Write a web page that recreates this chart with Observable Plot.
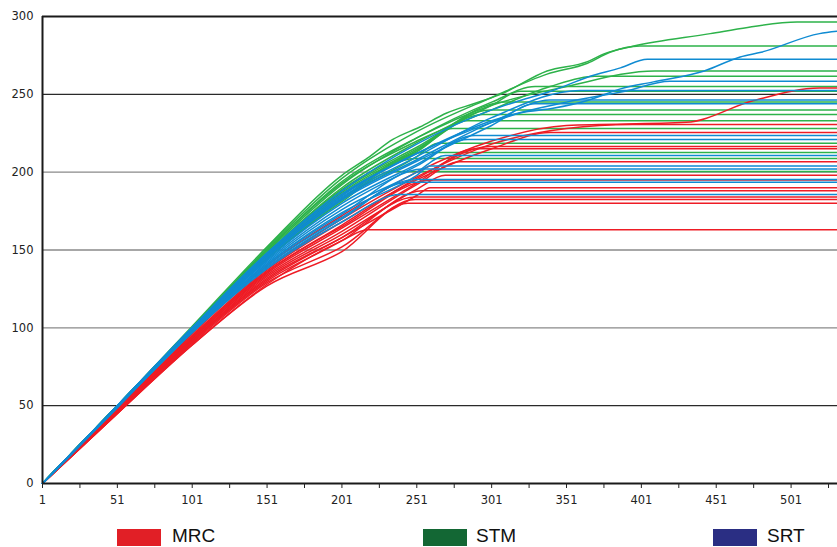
<!DOCTYPE html>
<html>
<head>
<meta charset="utf-8">
<script src="https://cdn.jsdelivr.net/npm/d3@7"></script>
<script src="https://cdn.jsdelivr.net/npm/@observablehq/plot@0.6"></script>
<style>
  html, body { margin: 0; padding: 0; background: #fff; }
  #wrap { position: relative; width: 837px; height: 547px; overflow: hidden; }
  .sw { position: absolute; top: 529px; width: 44px; height: 17px; }
  .lt { position: absolute; top: 525px; font-family: "Liberation Sans", Arial, sans-serif; font-size: 19px; color: #111; line-height: 21px; }
</style>
</head>
<body>
<div id="wrap"></div>
<script>
// ---- data ----
const methods = ["MRC", "STM", "SRT"];
const lineColors = ["#ee1c25", "#2db24a", "#0f8bd2"];
const legendColors = ["#e11f26", "#136734", "#2a2e83"];

const yTicks = [0, 50, 100, 150, 200, 250, 300];
const xMajorTicks = [1, 51, 101, 151, 201, 251, 301, 351, 401, 451, 501];
const xMinorTicks = [26, 76, 126, 176, 226, 276, 326, 376, 426, 476, 526];

// MRC runs: [x, cumulative value] knots
const mrcRuns = [
  [[1,0],[51,48],[101,96],[151,140],[201,172],[251,200],[301,220],[351,230],[431,232],[476,246],[520,254],[532,254]],
  [[1,0],[51,48],[101,95],[151,138],[201,170],[251,197],[301,218],[351,228],[395,230.6],[532,230.6]],
  [[1,0],[51,47],[101,94],[151,137],[201,168],[251,195],[301,215],[340,225.5],[532,225.5]],
  [[1,0],[51,47],[101,94],[151,136],[201,166],[251,196],[300,216.5],[532,216.5]],
  [[1,0],[51,47],[101,93],[151,135],[201,164],[251,193],[290,215],[532,215]],
  [[1,0],[51,46],[101,93],[151,134],[201,162],[251,192],[280,206.7],[532,206.7]],
  [[1,0],[51,46],[101,92],[151,133],[201,160],[251,189],[270,198],[532,198]],
  [[1,0],[51,46],[101,92],[151,131],[201,158],[251,185],[260,190],[532,190]],
  [[1,0],[51,45],[101,91],[151,130],[201,156],[255,188],[532,188]],
  [[1,0],[51,45],[101,90],[151,129],[201,152],[250,182.4],[532,182.4]],
  [[1,0],[51,45],[101,89],[151,127],[201,149],[245,180],[532,180]],
  [[1,0],[51,45],[101,89],[151,128],[201,156],[218,163],[532,163]],
  [[1,0],[51,46],[101,91],[151,132],[201,158],[250,184],[532,184]],
  [[1,0],[51,47],[101,94],[151,136],[201,165],[262,195],[532,195]]
];

// STM runs
const stmRuns = [
  [[1,0],[51,50],[101,101],[151,152],[201,198],[218,209],[235,221],[253,229],[271,238],[289,244],[307,250],[338,265],[365,271],[376,276],[396,281],[447,289],[472,293],[505,296.5],[532,296.5]],
  [[1,0],[51,50],[101,100],[151,151],[201,196],[251,226],[301,248],[338,263],[365,270],[380,277],[400,281],[532,281]],
  [[1,0],[51,50],[101,100],[151,150],[201,194],[251,222],[301,243],[351,255],[410,265],[532,265]],
  [[1,0],[51,50],[101,100],[151,150],[201,193],[251,220],[301,240],[340,255],[370,261.6],[532,261.6]],
  [[1,0],[51,50],[101,100],[151,149],[201,192],[251,222],[301,245],[330,255],[532,255]],
  [[1,0],[51,50],[101,99],[151,148],[201,190],[251,219],[301,243],[320,252],[532,252]],
  [[1,0],[51,50],[101,99],[151,148],[201,189],[251,216],[310,245],[532,245]],
  [[1,0],[51,50],[101,99],[151,147],[201,188],[251,215],[300,240],[532,240]],
  [[1,0],[51,50],[101,99],[151,147],[201,187],[251,214],[295,237],[532,237]],
  [[1,0],[51,50],[101,99],[151,146],[201,186],[251,213],[285,233],[532,233]],
  [[1,0],[51,50],[101,99],[151,146],[201,185],[251,214],[275,228],[532,228]],
  [[1,0],[51,49],[101,98],[151,145],[201,183],[251,210],[265,218.6],[532,218.6]],
  [[1,0],[51,49],[101,98],[151,145],[201,183],[255,212.6],[532,212.6]],
  [[1,0],[51,49],[101,98],[151,144],[201,182],[250,208.7],[532,208.7]],
  [[1,0],[51,49],[101,98],[151,144],[201,181],[235,200.4],[532,200.4]]
];

// SRT runs
const srtRuns = [
  [[1,0],[51,50],[101,100],[151,148],[201,186],[251,212],[301,232],[320,238],[342,241],[365,246],[387,253.5],[409,258],[443,265],[467,274],[481,277],[520,289],[532,290.5]],
  [[1,0],[51,50],[101,100],[151,148],[201,188],[251,218],[301,240],[320,246],[342,252.5],[365,261],[387,267],[405,272.5],[532,272.5]],
  [[1,0],[51,50],[101,100],[151,147],[201,185],[251,212],[301,233],[351,245],[390,252],[420,258.4],[532,258.4]],
  [[1,0],[51,50],[101,100],[151,146],[201,184],[251,210],[301,235],[360,252.5],[532,252.5]],
  [[1,0],[51,50],[101,99],[151,146],[201,183],[251,208],[301,232],[340,246.4],[532,246.4]],
  [[1,0],[51,50],[101,99],[151,145],[201,182],[251,207],[301,230],[330,244],[532,244]],
  [[1,0],[51,50],[101,99],[151,144],[201,180],[251,205],[290,223.5],[532,223.5]],
  [[1,0],[51,49],[101,99],[151,143],[201,178],[251,204],[285,221],[532,221]],
  [[1,0],[51,49],[101,98],[151,142],[201,176],[251,200],[270,210.7],[532,210.7]],
  [[1,0],[51,49],[101,98],[151,141],[201,174],[251,198],[260,204],[532,204]],
  [[1,0],[51,49],[101,98],[151,141],[201,173],[255,202],[532,202]],
  [[1,0],[51,49],[101,97],[151,140],[201,171],[250,195.3],[532,195.3]],
  [[1,0],[51,49],[101,97],[151,139],[201,170],[245,193.6],[532,193.6]],
  [[1,0],[51,49],[101,97],[151,138],[201,168],[240,185.6],[532,185.6]]
];

const gridLight = [100, 150, 200];
const gridDark = [50, 250];

// ---- build table ----
function toRows(runs, method) {
  const rows = [];
  runs.forEach((run, i) => run.forEach(([x, y]) => rows.push({method, run: method + i, x, y})));
  return rows;
}
const mrcRows = toRows(mrcRuns, "MRC");
const stmRows = toRows(stmRuns, "STM");
const srtRows = toRows(srtRuns, "SRT");

const lineOpts = {x: "x", y: "y", z: "run", stroke: "method", strokeWidth: 1.5, curve: "monotone-x"};

const chart = Plot.plot({
  width: 837,
  height: 510,
  marginTop: 16,
  marginLeft: 42,
  marginRight: 0,
  marginBottom: 27,
  style: {fontFamily: "'DejaVu Sans', Verdana, sans-serif", fontSize: "11.5px", color: "#222", background: "#fff"},
  x: {domain: [1, 532]},
  y: {domain: [0, 300]},
  color: {domain: methods, range: lineColors},
  marks: [
    Plot.ruleY(gridLight, {stroke: "#8a8a8a", strokeWidth: 1.4}),
    Plot.ruleY(gridDark, {stroke: "#2a2a2a", strokeWidth: 1.2}),
    Plot.line(stmRows, lineOpts),
    Plot.line(mrcRows, lineOpts),
    Plot.line(srtRows, lineOpts),
    Plot.ruleY([300], {stroke: "#1a1a1a", strokeWidth: 2}),
    Plot.ruleY([0], {stroke: "#1a1a1a", strokeWidth: 2}),
    Plot.ruleX([1], {stroke: "#1a1a1a", strokeWidth: 2}),
    Plot.axisY({ticks: yTicks, tickSize: 0, tickPadding: 9, label: null}),
    Plot.axisX({ticks: xMinorTicks, tickSize: 5, tickFormat: () => "", label: null}),
    Plot.axisX({ticks: xMajorTicks, tickSize: 5, tickPadding: 7, tickFormat: d => String(d), label: null})
  ]
});

const wrap = document.getElementById("wrap");
wrap.appendChild(chart);

// legend
const legendPos = [[117, 172], [423, 476], [713, 767]];
methods.forEach((m, i) => {
  const sw = document.createElement("div");
  sw.className = "sw";
  sw.style.left = legendPos[i][0] + "px";
  sw.style.background = legendColors[i];
  wrap.appendChild(sw);
  const t = document.createElement("div");
  t.className = "lt";
  t.style.left = legendPos[i][1] + "px";
  t.textContent = m;
  wrap.appendChild(t);
});
</script>
</body>
</html>
